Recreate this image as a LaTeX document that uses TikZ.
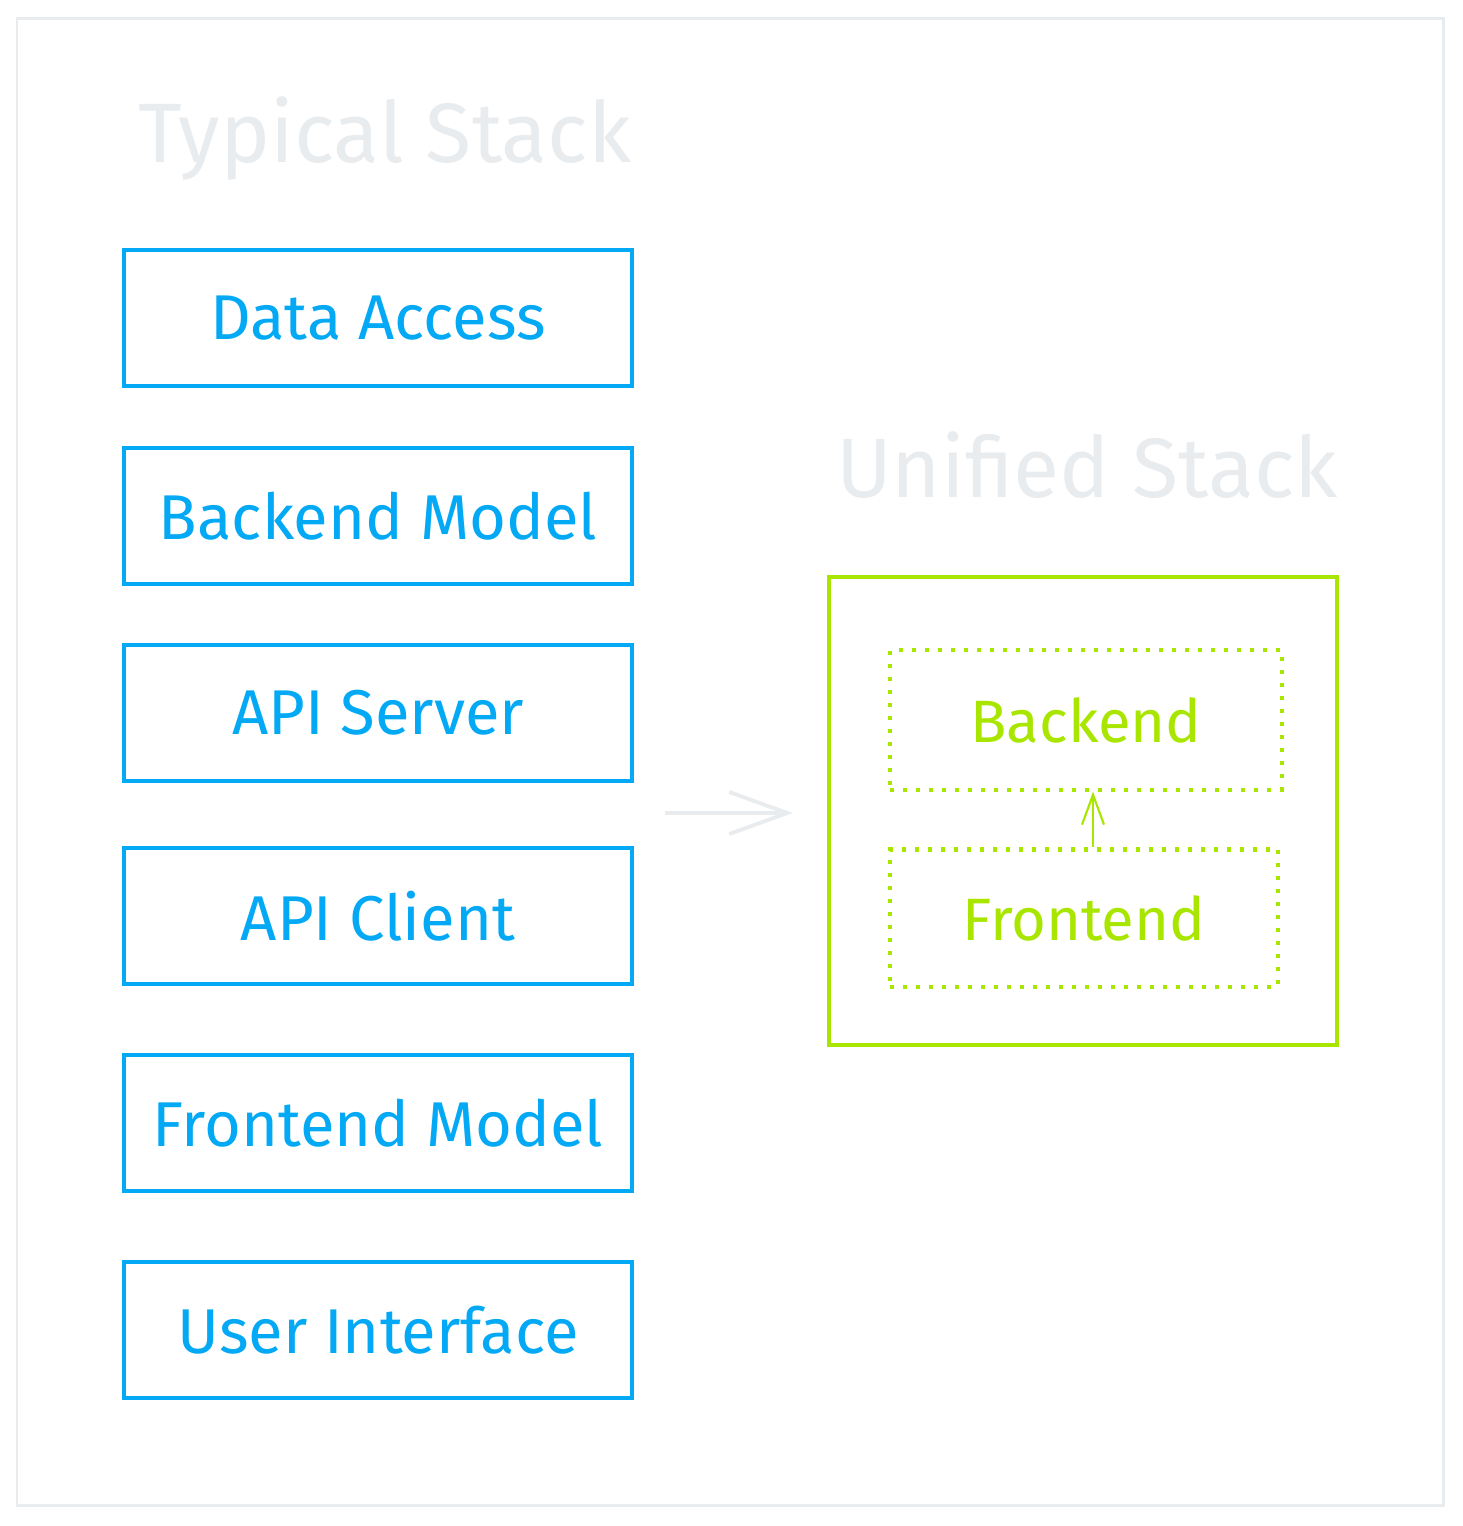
\documentclass[tikz,border=0pt]{standalone}
\usepackage{fontspec}
\setmainfont{Fira Sans}
\usetikzlibrary{arrows.meta}

\begin{document}
\begin{tikzpicture}[x=0.01cm, y=-0.01cm,
  layerbox/.style={draw=stackblue, line width=1.15pt, text=stackblue,
    minimum width=5.07cm, minimum height=1.36cm,
    font=\fontsize{18}{22}\selectfont},
  partbox/.style={draw=unigreen, line width=1.15pt, text=unigreen,
    dash pattern=on 1.15pt off 2.55pt,
    font=\fontsize{17}{21}\selectfont},
  heading/.style={text=framegray, anchor=base,
    font=\fontsize{24}{28}\selectfont}]
  % Define stroke colors
  \definecolor{stackblue}{RGB}{3,169,244}
  \definecolor{unigreen}{RGB}{168,230,0}
  \definecolor{framegray}{RGB}{233,236,239}

  % Fix the page size
  \useasboundingbox (0,0) rectangle (1463,1526);

  % Outer frame
  \draw[framegray, line width=0.85pt] (17,18) rectangle (1443,1505);

  % Headings
  \node[heading] (typical) at (385,162) {Typical Stack};
  \node[heading] (unifiedtitle) at (1087,497) {Unified Stack};

  % Layers of the typical stack
  \foreach \name/\label/\ypos in {access/Data Access/318,
      bmodel/Backend Model/516, server/API Server/713,
      client/API Client/916, fmodel/Frontend Model/1123,
      ui/User Interface/1330} {
    \node[layerbox] (\name) at (378,\ypos) {\label};
  }

  % Unified stack with its two parts
  \node[draw=unigreen, line width=1.15pt, minimum width=5.07cm,
    minimum height=4.67cm] (unified) at (1083,811) {};
  \node[partbox, minimum width=3.92cm, minimum height=1.39cm]
    (backend) at (1086,720) {Backend};
  \node[partbox, minimum width=3.88cm, minimum height=1.37cm]
    (frontend) at (1084,918) {Frontend};

  % Arrows
  \coordinate (arrowfrom) at (665,813);
  \coordinate (arrowto) at (793,813);
  \draw[framegray, line width=1.1pt,
    -{Straight Barb[length=0.58cm, width=0.42cm]}] (arrowfrom) -- (arrowto);
  \draw[unigreen, line width=0.6pt,
    -{Straight Barb[length=0.3cm, width=0.22cm]}]
    (frontend.north -| 1093,0) -- (backend.south -| 1093,0);
\end{tikzpicture}
\end{document}
